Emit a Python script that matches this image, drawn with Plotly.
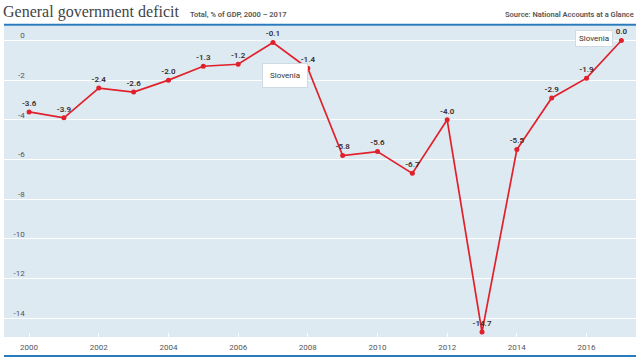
import plotly.graph_objects as go

years = list(range(2000, 2018))
deficit = [-3.6, -3.9, -2.4, -2.6, -2.0, -1.3, -1.2, -0.1, -1.4, -5.8,
           -5.6, -6.7, -4.0, -14.7, -5.5, -2.9, -1.9, 0.0]
labels = [f"{v:.1f}" for v in deficit]
x_ticks = list(range(2000, 2017, 2))
y_ticks = [0, -2, -4, -6, -8, -10, -12, -14]
country = "Slovenia"

RED = "#e0202b"
BLUE = "#2a7bbd"

fig = go.Figure()
fig.add_trace(go.Scatter(
    x=years, y=deficit, mode="lines+markers+text",
    text=labels, textposition="top center",
    textfont=dict(family="Roboto", size=8, color="#3a2a2a", weight=600),
    line=dict(color=RED, width=1.7),
    marker=dict(color=RED, size=5),
    hoverinfo="skip", showlegend=False, cliponaxis=False,
))

fig.update_layout(
    width=640, height=360,
    margin=dict(l=4, r=4, t=26, b=23),
    paper_bgcolor="white",
    plot_bgcolor="#deeaf2",
    font=dict(family="Roboto", size=9, color="#555"),
    xaxis=dict(
        range=[1999.28, 2017.42], tickvals=x_ticks, ticktext=[str(t) for t in x_ticks],
        showgrid=False, zeroline=False, ticks="inside", ticklen=4, tickcolor="white",
        tickwidth=1, tickfont=dict(size=8, color="#555"), ticklabelstandoff=4,
        domain=[0, 1],
    ),
    yaxis=dict(
        range=[-14.95, 0.73], tickvals=y_ticks, ticktext=[str(t) for t in y_ticks],
        showgrid=True, gridcolor="white", gridwidth=1, zeroline=False,
        anchor="free", position=0.036, ticklabelposition="outside", ticklabelshift=-5,
        ticklabelstandoff=2,
        tickfont=dict(size=8, color="#555"), ticks="", showline=False,
    ),
    shapes=[
        dict(type="line", xref="paper", yref="paper", x0=0, x1=1, y0=1.004, y1=1.004,
             line=dict(color=BLUE, width=2)),
        dict(type="line", xref="paper", yref="paper", x0=0, x1=1, y0=-0.061, y1=-0.061,
             line=dict(color=BLUE, width=2)),
    ],
    annotations=[
        dict(text="General government deficit", xref="paper", yref="paper", x=0, y=1,
             xanchor="left", yanchor="bottom", yshift=3, xshift=-3, showarrow=False,
             font=dict(family="Liberation Serif", size=16, color="#444")),
        dict(text="Total, % of GDP, 2000 – 2017", xref="paper", yref="paper", x=0, y=1,
             xanchor="left", yanchor="bottom", xshift=184, yshift=5, showarrow=False,
             font=dict(family="Roboto", size=7.5, color="#555", weight=600)),
        dict(text="Source: National Accounts at a Glance", xref="paper", yref="paper",
             x=1, y=1, xanchor="right", yanchor="bottom", yshift=5, showarrow=False,
             font=dict(family="Roboto", size=7.5, color="#555", weight=600)),
        dict(text=country, x=years[7], y=deficit[7], xshift=12, yshift=-33.5,
             showarrow=False, bgcolor="white", bordercolor="#cfdbe3", borderwidth=1,
             borderpad=7, font=dict(family="Roboto", size=8, color="#333")),
        dict(text=country, x=years[17], y=deficit[17], xshift=-27, yshift=1.5,
             showarrow=False, bgcolor="white", bordercolor="#cfdbe3", borderwidth=1,
             borderpad=3, font=dict(family="Roboto", size=8, color="#333")),
    ],
)

fig.write_html("out.html", config={"displayModeBar": False},
               post_script="document.body.style.margin='0';")
